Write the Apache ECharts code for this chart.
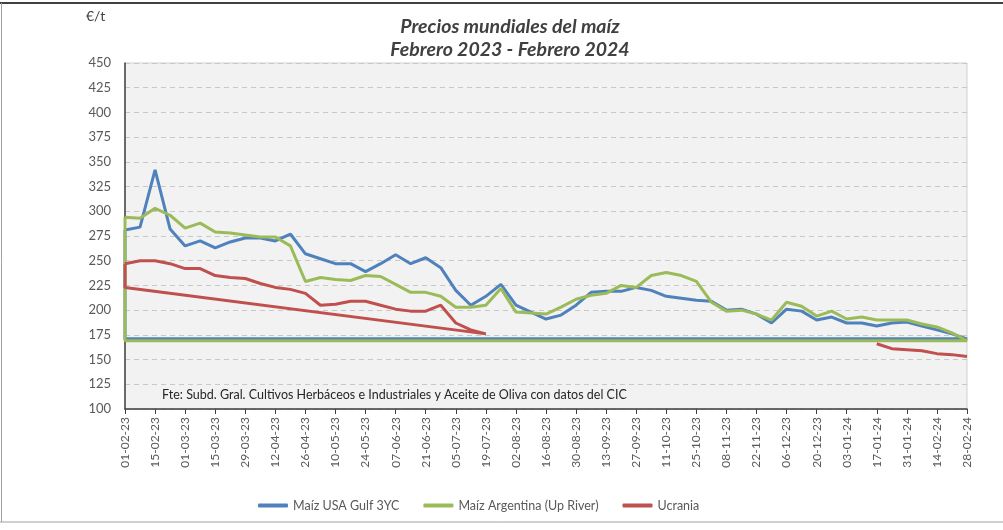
<!DOCTYPE html>
<html>
<head>
<meta charset="utf-8">
<script src="https://cdn.jsdelivr.net/npm/echarts@6/dist/echarts.min.js"></script>
<style>
  html, body { margin: 0; padding: 0; background: #fff; }
  #chart { width: 1003px; height: 530px; }
</style>
</head>
<body>
<div id="chart"></div>
<script>
// etiquetas del eje X (cada 14 días)
const tickLabels = [
  '01-02-23', '15-02-23', '01-03-23', '15-03-23', '29-03-23', '12-04-23', '26-04-23',
  '10-05-23', '24-05-23', '07-06-23', '21-06-23', '05-07-23', '19-07-23', '02-08-23',
  '16-08-23', '30-08-23', '13-09-23', '27-09-23', '11-10-23', '25-10-23', '08-11-23',
  '22-11-23', '06-12-23', '20-12-23', '03-01-24', '17-01-24', '31-01-24', '14-02-24', '28-02-24'
];

// precios semanales (€/t), desde el 01-02-23
const usaGulf = [
  281, 284, 342, 282, 265, 270, 263, 269, 273, 273, 270, 277, 257, 252, 247, 247, 239, 247, 256, 247,
  253, 243, 220, 205, 214, 226, 205, 198, 191, 195, 205, 218, 219, 219, 223, 220, 214, 212, 210, 209,
  200, 201, 196, 187, 201, 199, 190, 193, 187, 187, 184, 187, 188, 184, 180, 176, 171
];
const argentina = [
  294, 293, 303, 296, 283, 288, 279, 278, 276, 274, 274, 265, 229, 233, 231, 230, 235, 234, 226, 218,
  218, 214, 203, 203, 205, 222, 198, 197, 196, 203, 211, 215, 217, 225, 223, 235, 238, 235, 229, 208,
  199, 200, 196, 190, 208, 204, 194, 199, 191, 193, 190, 190, 190, 186, 183, 177, 169
];
const ucrania = [
  247, 250, 250, 247, 242, 242, 235, 233, 232, 227, 223, 221, 217, 205, 206, 209, 209, 205, 201, 199,
  199, 205, 187, 180, 176, null, null, null, null, null, null, null, null, null, null, null, null, null, null, null,
  null, null, null, null, null, null, null, null, null, null, 166, 161, 160, 159, 156, 155, 153
];

// valor con el que cada serie vuelve al inicio del eje (como en el original)
const cierreUSA = 171;
const cierreArg = 169;
const cierreUcr = 223;

const names = ['Maíz USA Gulf 3YC', 'Maíz Argentina (Up River)', 'Ucrania'];
const colors = ['#4F81BD', '#9BBB59', '#C0504D'];

function buildSerie(values, cierre) {
  const pts = values.map((v, i) => [i * 7, v]);
  let cut = values.indexOf(null);
  if (cut < 0) cut = pts.length;
  pts.splice(cut, 0, [0, cierre], [0, values[0]]);
  return pts;
}

const chart = echarts.init(document.getElementById('chart'));
const font = 'Lato, "Open Sans", sans-serif';

chart.setOption({
  animation: false,
  textStyle: { fontFamily: font },
  title: {
    text: 'Precios mundiales del maíz\nFebrero 2023 - Febrero 2024',
    left: 505,
    top: 10,
    textAlign: 'center',
    textStyle: {
      fontFamily: font, fontSize: 19.5, fontWeight: 'bold', fontStyle: 'italic',
      color: '#404040', lineHeight: 23
    }
  },
  graphic: [
    { type: 'text', left: 86, top: 9, style: { text: '€/t', font: '14px ' + font, fill: '#404040' } },
    { type: 'text', left: 162, top: 388, z: 10,
      style: { text: 'Fte: Subd. Gral. Cultivos Herbáceos e Industriales y Aceite de Oliva con datos del CIC',
               font: '12.5px ' + font, fill: '#262626' } },
    { type: 'line', shape: { x1: 0, y1: 3, x2: 1003, y2: 3 }, style: { stroke: '#404040', lineWidth: 2 } },
    { type: 'line', shape: { x1: 0, y1: 522, x2: 1003, y2: 522 }, style: { stroke: '#a0a0a0', lineWidth: 1 } },
    { type: 'line', shape: { x1: 1.5, y1: 3, x2: 1.5, y2: 522 }, style: { stroke: '#a0a0a0', lineWidth: 1 } }
  ],
  legend: {
    data: names,
    bottom: 13,
    left: 253,
    icon: 'roundRect',
    itemWidth: 30,
    itemHeight: 4,
    itemGap: 24,
    textStyle: { fontFamily: font, fontSize: 12.5, color: '#595959' }
  },
  grid: {
    left: 125, top: 63, right: 36, bottom: 121,
    show: true, backgroundColor: '#f2f2f2', borderColor: '#d0d0d0', borderWidth: 1
  },
  xAxis: {
    type: 'value',
    min: 0, max: (tickLabels.length - 1) * 14, interval: 14,
    axisLine: { show: true, onZero: false, lineStyle: { color: '#404040', width: 1.5 } },
    axisTick: { show: true, length: 5, lineStyle: { color: '#404040' } },
    splitLine: { show: false },
    axisLabel: {
      rotate: 90, color: '#595959', fontSize: 12, margin: 8,
      formatter: v => tickLabels[Math.round(v / 14)] || ''
    }
  },
  yAxis: {
    type: 'value',
    min: 100, max: 450, interval: 25,
    axisLine: { show: true, lineStyle: { color: '#404040', width: 1.5 } },
    axisTick: { show: false },
    axisLabel: { color: '#595959', fontSize: 13, margin: 14 },
    splitLine: { lineStyle: { color: '#c8c8c8', type: [5, 4] } }
  },
  series: [
    { name: names[0], type: 'line', data: buildSerie(usaGulf, cierreUSA) },
    { name: names[1], type: 'line', data: buildSerie(argentina, cierreArg) },
    { name: names[2], type: 'line', data: buildSerie(ucrania, cierreUcr) }
  ].map((s, i) => Object.assign(s, {
    showSymbol: false, symbol: 'none', color: colors[i],
    lineStyle: { width: 3, color: colors[i] },
    connectNulls: false
  }))
});
</script>
</body>
</html>
